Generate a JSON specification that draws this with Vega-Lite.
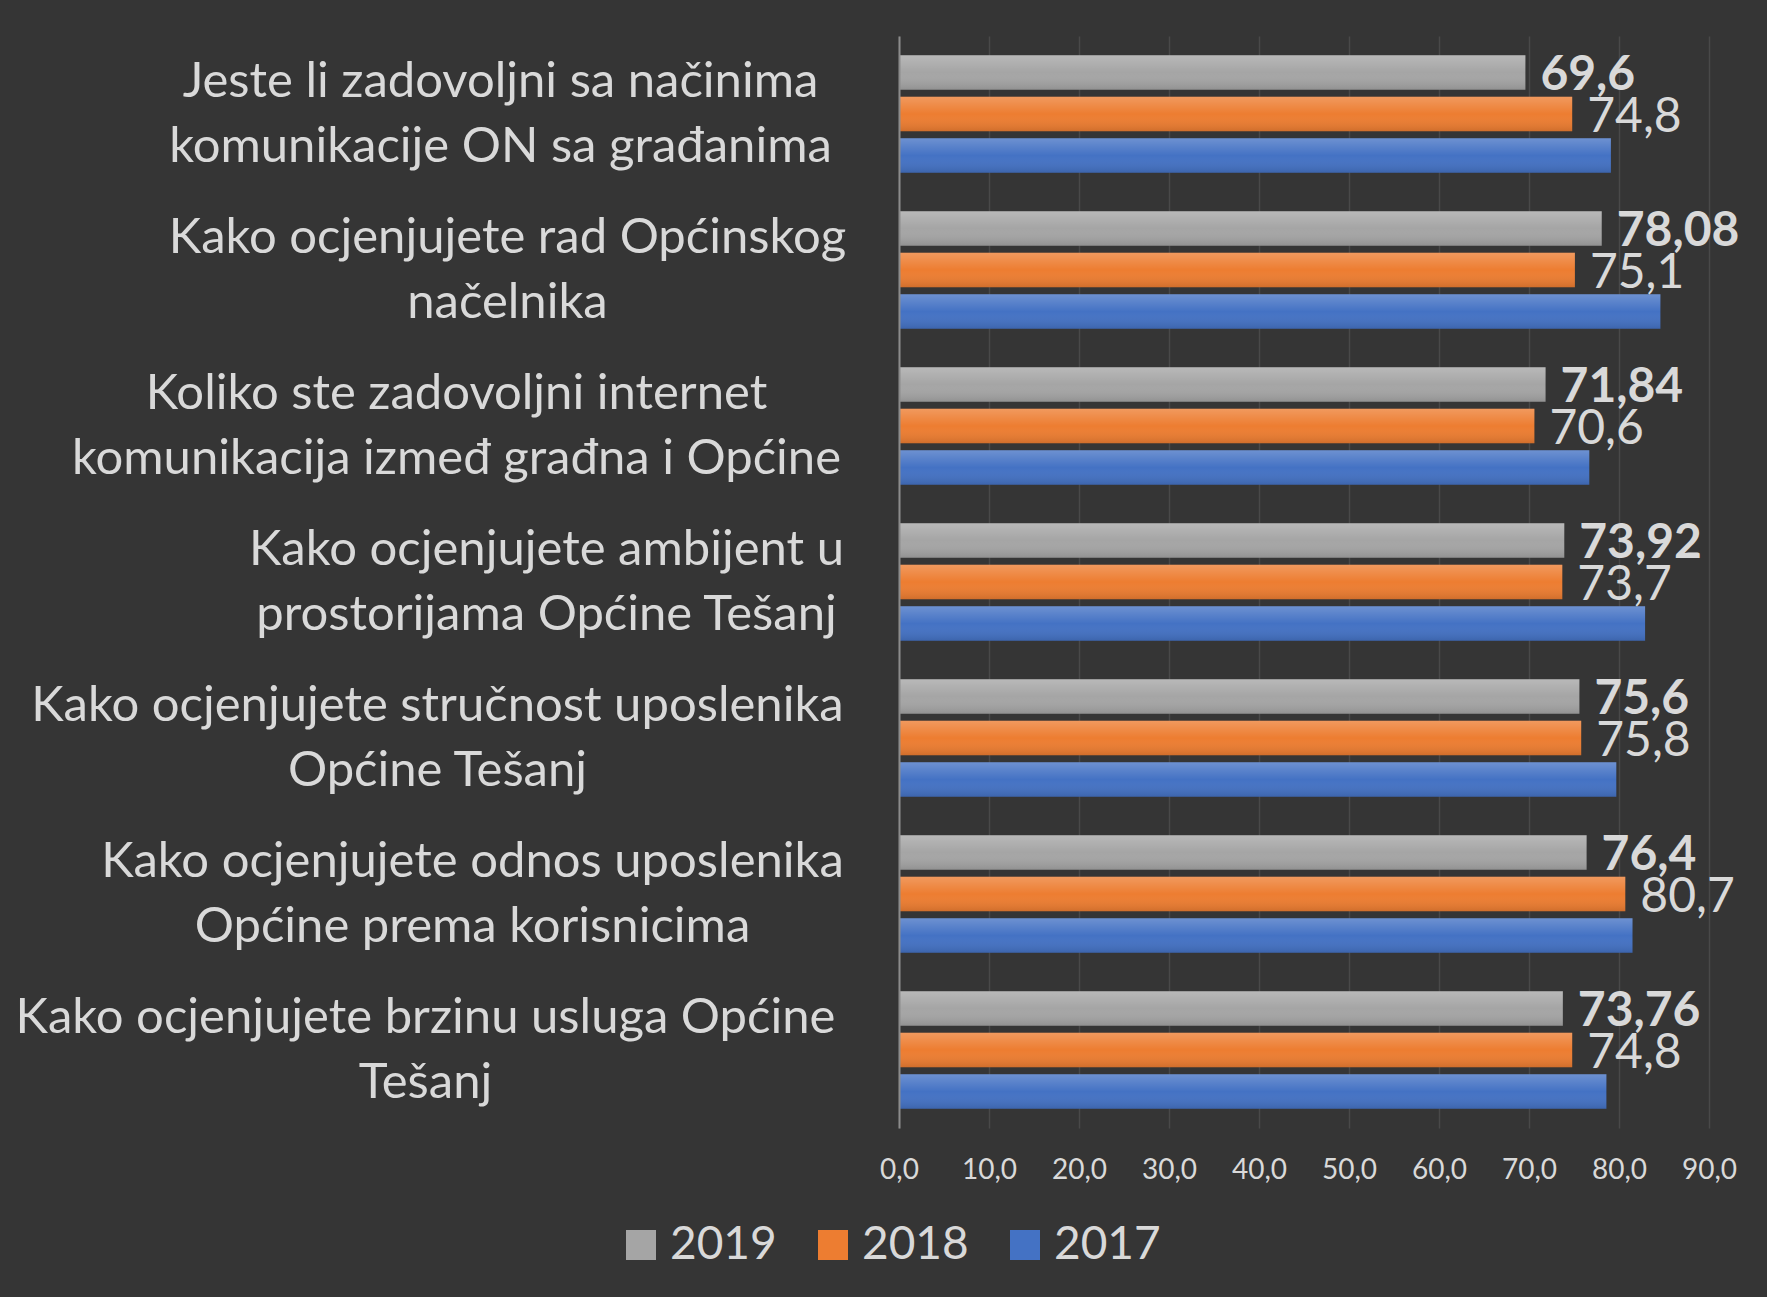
{
  "$schema": "https://vega.github.io/schema/vega-lite/v6.json",
  "width": 810,
  "height": 1092,
  "autosize": {"type": "none"},
  "padding": {"left": 899, "top": 36, "right": 58, "bottom": 169},
  "background": "#353535",
  "config": {"view": {"stroke": null}, "font": "Lato"},
  "data": {
    "values": [
      {"pitanje": "Jeste li zadovoljni sa načinima|komunikacije ON sa građanima", "godina": "2019", "vrijednost": 69.6},
      {"pitanje": "Jeste li zadovoljni sa načinima|komunikacije ON sa građanima", "godina": "2018", "vrijednost": 74.8},
      {"pitanje": "Jeste li zadovoljni sa načinima|komunikacije ON sa građanima", "godina": "2017", "vrijednost": 79.1},
      {"pitanje": "Kako ocjenjujete rad Općinskog|načelnika", "godina": "2019", "vrijednost": 78.08},
      {"pitanje": "Kako ocjenjujete rad Općinskog|načelnika", "godina": "2018", "vrijednost": 75.1},
      {"pitanje": "Kako ocjenjujete rad Općinskog|načelnika", "godina": "2017", "vrijednost": 84.6},
      {"pitanje": "Koliko ste zadovoljni internet|komunikacija izmeđ građna i Općine", "godina": "2019", "vrijednost": 71.84},
      {"pitanje": "Koliko ste zadovoljni internet|komunikacija izmeđ građna i Općine", "godina": "2018", "vrijednost": 70.6},
      {"pitanje": "Koliko ste zadovoljni internet|komunikacija izmeđ građna i Općine", "godina": "2017", "vrijednost": 76.7},
      {"pitanje": "Kako ocjenjujete ambijent u|prostorijama Općine Tešanj", "godina": "2019", "vrijednost": 73.92},
      {"pitanje": "Kako ocjenjujete ambijent u|prostorijama Općine Tešanj", "godina": "2018", "vrijednost": 73.7},
      {"pitanje": "Kako ocjenjujete ambijent u|prostorijama Općine Tešanj", "godina": "2017", "vrijednost": 82.9},
      {"pitanje": "Kako ocjenjujete stručnost uposlenika|Općine Tešanj", "godina": "2019", "vrijednost": 75.6},
      {"pitanje": "Kako ocjenjujete stručnost uposlenika|Općine Tešanj", "godina": "2018", "vrijednost": 75.8},
      {"pitanje": "Kako ocjenjujete stručnost uposlenika|Općine Tešanj", "godina": "2017", "vrijednost": 79.7},
      {"pitanje": "Kako ocjenjujete odnos uposlenika|Općine prema korisnicima", "godina": "2019", "vrijednost": 76.4},
      {"pitanje": "Kako ocjenjujete odnos uposlenika|Općine prema korisnicima", "godina": "2018", "vrijednost": 80.7},
      {"pitanje": "Kako ocjenjujete odnos uposlenika|Općine prema korisnicima", "godina": "2017", "vrijednost": 81.5},
      {"pitanje": "Kako ocjenjujete brzinu usluga Općine|Tešanj", "godina": "2019", "vrijednost": 73.76},
      {"pitanje": "Kako ocjenjujete brzinu usluga Općine|Tešanj", "godina": "2018", "vrijednost": 74.8},
      {"pitanje": "Kako ocjenjujete brzinu usluga Općine|Tešanj", "godina": "2017", "vrijednost": 78.6}
    ]
  },
  "encoding": {
    "y": {
      "field": "pitanje",
      "type": "nominal",
      "sort": null,
      "scale": {"paddingInner": 0.2455, "paddingOuter": 0.1228},
      "axis": {
        "title": null,
        "ticks": false,
        "grid": false,
        "domain": true,
        "domainColor": "#8c8c8c",
        "domainWidth": 2,
        "zindex": 1,
        "labelExpr": "split(datum.label, '|')",
        "labelFont": "Lato",
        "labelFontSize": 49,
        "labelColor": "#d9d9d9",
        "labelAlign": "center",
        "labelBaseline": "middle",
        "labelLineHeight": 65,
        "labelOffset": -32,
        "labelLimit": 0,
        "labelOverlap": false,
        "labelBound": false,
        "labelPadding": {"expr": "indexof(datum.value,'Jeste')>=0 ? 399 : indexof(datum.value,'rad Op')>=0 ? 392 : indexof(datum.value,'Koliko')>=0 ? 443 : indexof(datum.value,'ambijent')>=0 ? 353 : indexof(datum.value,'stru')>=0 ? 462 : indexof(datum.value,'odnos')>=0 ? 427 : 474"}
      }
    },
    "yOffset": {
      "field": "godina",
      "type": "nominal",
      "scale": {"domain": ["2019", "2018", "2017"], "paddingInner": 0.171, "paddingOuter": 0}
    },
    "x": {
      "field": "vrijednost",
      "type": "quantitative",
      "scale": {"domain": [0, 90], "nice": false},
      "axis": {
        "title": null,
        "values": [0, 10, 20, 30, 40, 50, 60, 70, 80, 90],
        "labelExpr": "replace(format(datum.value, '.1f'), '.', ',')",
        "labelFont": "Lato",
        "labelFontSize": 28,
        "labelColor": "#d9d9d9",
        "labelPadding": 28,
        "labelFlush": false,
        "ticks": false,
        "domain": false,
        "grid": true,
        "gridColor": "#ffffff",
        "gridOpacity": 0.1,
        "gridWidth": 1.5
      }
    }
  },
  "layer": [
    {
      "mark": {"type": "bar"},
      "encoding": {
        "color": {
          "field": "godina",
          "type": "nominal",
          "scale": {"domain": ["2019", "2018", "2017"], "range": ["#a5a5a5", "#ed7d31", "#4472c4"]},
          "legend": {
            "title": null,
            "orient": "none",
            "direction": "horizontal",
            "legendX": -281,
            "legendY": 1186,
            "symbolType": "square",
            "symbolSize": 900,
            "symbolStrokeWidth": 0,
            "symbolOpacity": 1,
            "labelFont": "Lato",
            "labelFontSize": 46,
            "labelColor": "#d9d9d9",
            "labelOffset": 6,
            "columnPadding": 33,
            "padding": 0,
            "labelLimit": 0
          }
        }
      }
    },
    {
      "mark": {
        "type": "bar",
        "fill": {
          "gradient": "linear",
          "x1": 0, "y1": 0, "x2": 0, "y2": 1,
          "stops": [
            {"offset": 0, "color": "rgba(255,255,255,0.22)"},
            {"offset": 0.5, "color": "rgba(255,255,255,0)"},
            {"offset": 1, "color": "rgba(0,0,0,0.12)"}
          ]
        }
      }
    },
    {
      "transform": [
        {"filter": "datum.godina == '2019'"},
        {"calculate": "replace(toString(datum.vrijednost), '.', ',')", "as": "oznaka"}
      ],
      "mark": {"type": "text", "align": "left", "baseline": "middle", "dx": 15, "dy": 4, "font": "Lato", "fontSize": 48, "fontWeight": "bold", "color": "#d9d9d9"},
      "encoding": {"text": {"field": "oznaka"}}
    },
    {
      "transform": [
        {"filter": "datum.godina == '2018'"},
        {"calculate": "replace(toString(datum.vrijednost), '.', ',')", "as": "oznaka"}
      ],
      "mark": {"type": "text", "align": "left", "baseline": "middle", "dx": 15, "dy": 4, "font": "Lato", "fontSize": 48, "fontWeight": "normal", "color": "#d9d9d9"},
      "encoding": {"text": {"field": "oznaka"}}
    }
  ]
}
